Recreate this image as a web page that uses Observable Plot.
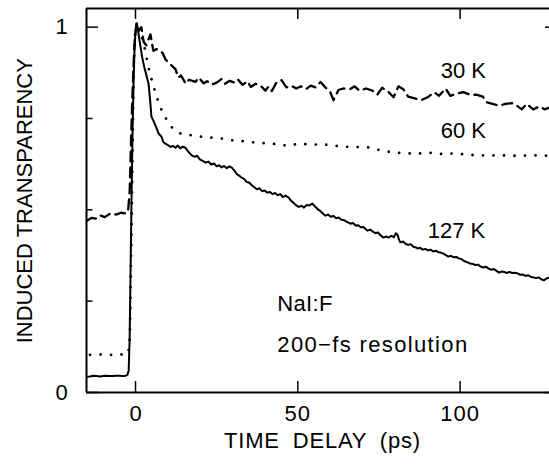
<!DOCTYPE html>
<html>
<head>
<meta charset="utf-8">
<script src="https://cdn.jsdelivr.net/npm/d3@7"></script>
<script src="https://cdn.jsdelivr.net/npm/@observablehq/plot@0.6"></script>
<style>
  html, body { margin: 0; padding: 0; background: white; overflow: hidden; }
  #chart svg { display: block; }
</style>
</head>
<body>
<div id="chart"></div>
<script>
// ---- Data ----
const t127 = [-15,-14,-13,-12,-11,-10,-9,-8,-7,-6,-5,-4,-3,-2.5,-2.1,-1.8,-1.5,-1.2,-0.9,-0.6,-0.3,0,0.4,0.8,1.3,2,2.7,3.3,4.0,4.5,4.9,5.5,6.2,7.1,8,8.6,9.2,10,10.8,11.5,12.3,13,13.8,14.5,15.4,16.2,17.3,18.2,19,19.8,20.7,21.6,22.5,23.3,24.2,25,25.8,26.5,27.3,28.1,28.9,29.6,30.4,31.2,32,32.7,33.5,34.3,35.1,35.9,36.6,37.4,38.2,39,39.8,40.6,41.4,42.2,43,43.8,44.6,45.4,46.2,47.1,47.9,48.7,49.5,50.3,51.1,51.9,52.7,53.5,54.5,55.3,56.1,56.9,57.7,58.5,59.3,60.1,61,61.8,62.6,63.4,64.2,65,66.2,67,67.8,68.6,69.4,70.2,71.5,72.3,73.1,73.9,74.7,75.5,76.4,77.2,78,78.8,79.6,80.2,80.7,81.2,81.6,82.4,83.2,84,84.8,85.6,86.4,86.9,87.7,88.5,89.3,90.1,90.9,91.7,92.5,93.3,94,94.8,95.6,96.4,97.2,98,98.8,99.6,100.4,101.2,102.3,103.1,103.9,104.7,105.5,106.3,107.2,108,108.8,109.6,110.4,111.2,112,112.8,113.6,114.4,115.2,116,116.8,117.7,118.5,119.3,120.1,120.9,121.7,122.6,123.4,124.2,125,125.8,126.6,127.4];
const v127 = [0.043,0.044,0.046,0.045,0.044,0.045,0.046,0.045,0.045,0.046,0.046,0.045,0.046,0.048,0.06,0.15,0.35,0.55,0.72,0.85,0.94,0.99,1.01,0.99,0.96,0.92,0.89,0.87,0.846,0.8,0.755,0.744,0.73,0.709,0.7,0.685,0.681,0.677,0.672,0.675,0.67,0.676,0.668,0.673,0.67,0.66,0.649,0.645,0.648,0.638,0.634,0.629,0.632,0.624,0.627,0.619,0.622,0.616,0.62,0.614,0.619,0.616,0.608,0.598,0.593,0.588,0.584,0.576,0.574,0.566,0.562,0.556,0.559,0.551,0.553,0.547,0.549,0.543,0.546,0.54,0.543,0.535,0.539,0.534,0.525,0.519,0.512,0.508,0.511,0.506,0.513,0.512,0.517,0.509,0.502,0.497,0.49,0.484,0.487,0.481,0.483,0.477,0.479,0.473,0.472,0.468,0.462,0.464,0.457,0.458,0.452,0.453,0.443,0.446,0.44,0.436,0.438,0.43,0.424,0.427,0.424,0.429,0.425,0.436,0.432,0.418,0.411,0.413,0.407,0.404,0.406,0.399,0.397,0.394,0.396,0.391,0.393,0.389,0.391,0.386,0.388,0.384,0.383,0.38,0.376,0.372,0.374,0.37,0.371,0.367,0.365,0.36,0.356,0.353,0.352,0.349,0.35,0.345,0.342,0.344,0.339,0.336,0.338,0.333,0.328,0.331,0.33,0.327,0.33,0.327,0.328,0.326,0.322,0.323,0.319,0.321,0.317,0.315,0.313,0.315,0.31,0.307,0.312,0.314];

const t60 = [-14,-12,-10,-8,-6,-4,-2.5,-1.8,-1.4,-1.0,-0.6,-0.2,0.3,1.2,2.5,4,5.5,7.7,9.2,10.8,13.2,15,18.5,21,24,26.5,30,33,37,40,43,47,50.8,54,57,61,64,67,71.5,75,79.5,83,87,90,94,97,101,104,107,112,117,122.6,127.5];
const v60 = [0.103,0.104,0.104,0.103,0.104,0.104,0.104,0.15,0.35,0.6,0.85,0.97,1.0,0.99,0.955,0.89,0.84,0.78,0.753,0.73,0.712,0.706,0.703,0.699,0.697,0.695,0.69,0.688,0.684,0.682,0.68,0.676,0.681,0.678,0.679,0.676,0.673,0.672,0.671,0.664,0.657,0.655,0.654,0.656,0.653,0.654,0.652,0.65,0.649,0.649,0.648,0.649,0.648];

const t30 = [-15,-13.5,-12.3,-11,-9.5,-7.7,-6,-4.5,-3,-2.3,-1.8,-1.4,-1.0,-0.6,-0.2,0.3,1.0,1.8,2.5,3.3,4.6,5.5,6.5,8.3,9.2,10.5,12.3,13.2,14,15.5,16.5,18.5,19.5,21,22,23.5,25,26.5,27.5,29,30.5,31.5,33,34.5,35.5,37,38.5,40,41,42,43.5,45,46.5,48,49.5,51,52.5,54,55.5,57,58.5,60,61,62.5,64,66,67.5,69,71,73,74.5,76,78,79.5,81,82.5,84,86,88,90,92,93.5,95.5,97,99,101,103,105,107,108,110,112,114,116,117.5,119,120.5,122.5,124.5,126,127.5];
const v30 = [0.47,0.478,0.476,0.485,0.48,0.49,0.487,0.492,0.49,0.495,0.55,0.68,0.8,0.9,0.97,1.01,0.99,1.0,0.96,0.95,0.98,0.935,0.94,0.93,0.912,0.9,0.885,0.862,0.868,0.845,0.856,0.85,0.862,0.846,0.852,0.843,0.848,0.858,0.845,0.853,0.848,0.857,0.842,0.852,0.836,0.845,0.84,0.826,0.838,0.825,0.85,0.855,0.835,0.84,0.832,0.838,0.83,0.84,0.835,0.85,0.835,0.822,0.8,0.828,0.832,0.83,0.838,0.826,0.832,0.826,0.815,0.834,0.822,0.808,0.838,0.83,0.81,0.805,0.8,0.808,0.822,0.812,0.832,0.812,0.818,0.822,0.815,0.815,0.81,0.795,0.79,0.785,0.79,0.792,0.785,0.775,0.79,0.775,0.783,0.775,0.78];

const xTicks = [0, 50, 100];
const xTickLabels = ["0", "50", "100"];
const yMajorTicks = [0, 1];
const yMinorTicks = [0.25, 0.5, 0.75];
const yTickLabels = ["0", "1"];

const seriesLabels = ["30 K", "60 K", "127 K"];
const seriesLabelX = [101, 101, 98.9];
const seriesLabelY = [0.881, 0.717, 0.443];

const sampleNote = "NaI:F";
const resolutionNote = "200\u2212fs resolution";
const noteX = 43.7;
const sampleNoteY = 0.241;
const resolutionNoteY = 0.129;

const xTitle = "TIME DELAY (ps)";
const yTitle = "INDUCED TRANSPARENCY";

// ---- Build tables ----
const d127 = t127.map((t, i) => ({t, v: v127[i]}));
const d60 = t60.map((t, i) => ({t, v: v60[i]}));
const d30 = t30.map((t, i) => ({t, v: v30[i]}));
const labels = seriesLabels.map((s, i) => ({s, x: seriesLabelX[i], y: seriesLabelY[i]}));

const X0 = -15.1, X1 = 130, Y1 = 1.051;
const font = "'Liberation Sans', Arial, Helvetica, sans-serif";

const chart = Plot.plot({
  width: 549,
  height: 475,
  marginLeft: 86,
  marginRight: 0,
  marginTop: 8,
  marginBottom: 83,
  x: {domain: [X0, X1], range: [86, 557], axis: null},
  y: {domain: [0, Y1], axis: null},
  style: {fontFamily: font, fontSize: "22px", background: "white", color: "black"},
  marks: [
    // frame
    Plot.ruleY([0], {stroke: "black", strokeWidth: 2}),
    Plot.ruleY([Y1], {stroke: "black", strokeWidth: 2}),
    Plot.ruleX([X0], {stroke: "black", strokeWidth: 2}),
    // x ticks bottom & top
    Plot.ruleX(xTicks, {x: d => d, y1: 0, y2: 0.03, stroke: "black", strokeWidth: 1.5}),
    Plot.ruleX(xTicks, {x: d => d, y1: Y1, y2: Y1 - 0.03, stroke: "black", strokeWidth: 1.5}),
    // y ticks left & right
    Plot.ruleY(yMajorTicks, {y: d => d, x1: X0, x2: X0 + 3.7, stroke: "black", strokeWidth: 1.5}),
    Plot.ruleY(yMinorTicks, {y: d => d, x1: X0, x2: X0 + 2.0, stroke: "black", strokeWidth: 1.5}),
    Plot.ruleY(yMajorTicks, {y: d => d, x1: X1, x2: X1 - 3.7, stroke: "black", strokeWidth: 1.5}),
    Plot.ruleY(yMinorTicks, {y: d => d, x1: X1, x2: X1 - 2.0, stroke: "black", strokeWidth: 1.5}),
    // tick labels
    Plot.text(xTicks, {x: d => d, y: 0, text: (d, i) => xTickLabels[i], dy: 21, fill: "black", fontSize: 22}),
    Plot.text(yMajorTicks, {x: X0, y: d => d, text: (d, i) => yTickLabels[i], dx: -25, fill: "black", fontSize: 22}),
    // axis titles
    Plot.text([xTitle], {x: 57.6, y: 0, dy: 48, text: d => d, fill: "black", fontSize: 22}),
    Plot.text([yTitle], {x: X0, y: 0.525, dx: -62, rotate: -90, text: d => d, fill: "black", fontSize: 22}),
    // data
    Plot.line(d30, {x: "t", y: "v", stroke: "black", strokeWidth: 2.3, strokeDasharray: "10,6", curve: "linear"}),
    Plot.line(d60, {x: "t", y: "v", stroke: "black", strokeWidth: 2.8, strokeDasharray: "0,10.5", strokeLinecap: "round", curve: "monotone-x"}),
    Plot.line(d127, {x: "t", y: "v", stroke: "black", strokeWidth: 2, curve: "linear"}),
    // annotations
    Plot.text(labels, {x: "x", y: "y", text: "s", fill: "black", fontSize: 22}),
    Plot.text([sampleNote], {x: noteX, y: sampleNoteY, text: d => d, textAnchor: "start", fill: "black", fontSize: 22}),
    Plot.text([resolutionNote], {x: noteX, y: resolutionNoteY, text: d => d, textAnchor: "start", fill: "black", fontSize: 22})
  ]
});

// letter spacing tweaks to match the wide plotter lettering
const spacing = new Map([
  [xTitle, {ls: "0.8px", ws: "6px"}],
  [resolutionNote, {ls: "1.35px", ws: "0px"}],
  [sampleNote, {ls: "0.3px", ws: "0px"}],
  ["50", {ls: "1px", ws: "0px"}],
  ["100", {ls: "1px", ws: "0px"}]
]);
d3.select(chart).selectAll("text").each(function() {
  const s = spacing.get(this.textContent);
  if (s) {
    this.style.letterSpacing = s.ls;
    this.style.wordSpacing = s.ws;
  }
});
document.getElementById("chart").appendChild(chart);
</script>
</body>
</html>
